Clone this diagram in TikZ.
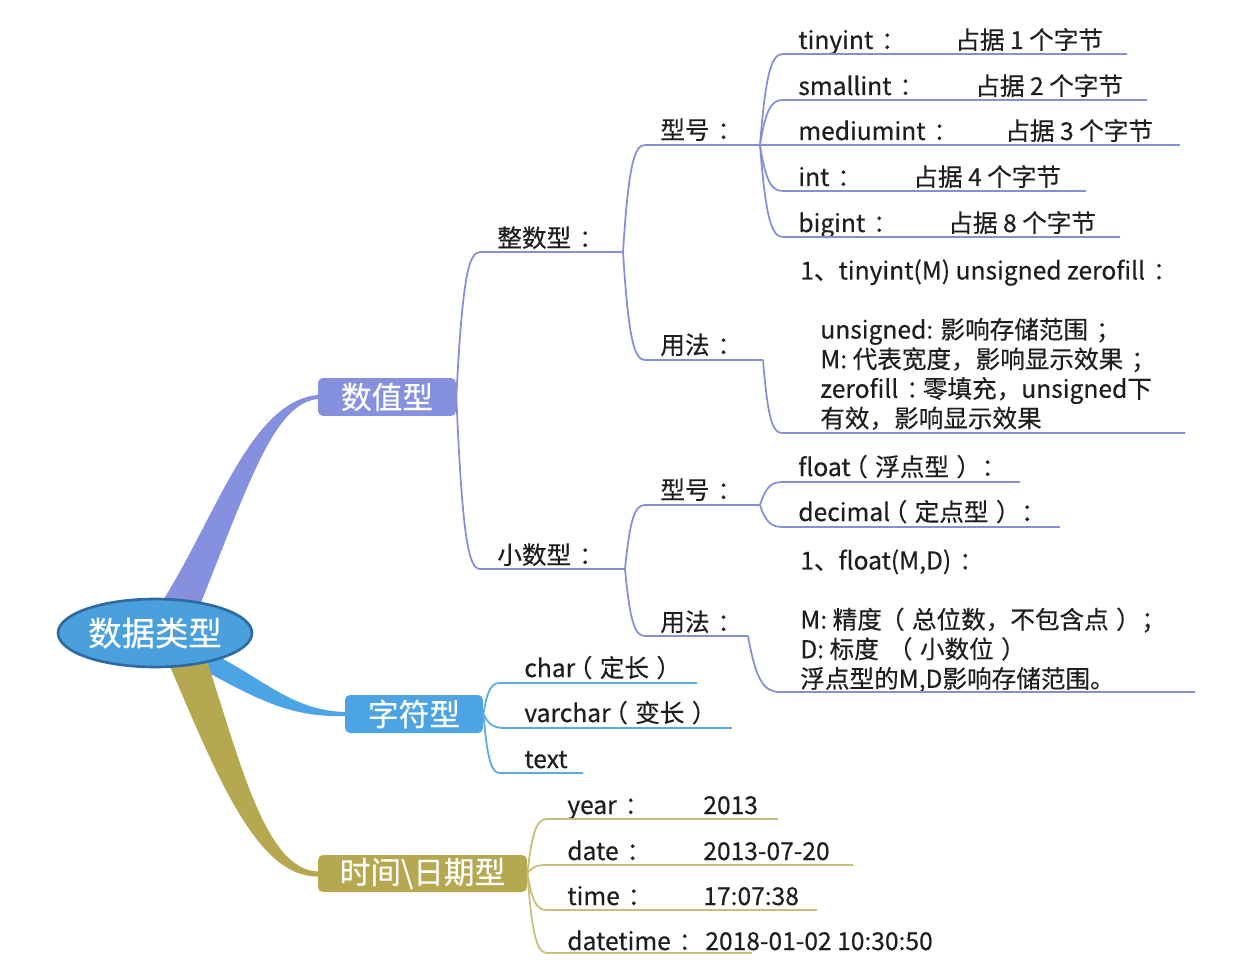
\documentclass[tikz,border=0pt]{standalone}
\usepackage{fontspec}
\setmainfont{Noto Sans CJK SC}[FakeBold=0.4]
\usetikzlibrary{calc,shapes.geometric,backgrounds}
\definecolor{purp}{HTML}{8591DE}
\definecolor{purpl}{HTML}{8590D3}
\definecolor{blu}{HTML}{4CA4E4}
\definecolor{blul}{HTML}{5BAAE2}
\definecolor{oli}{HTML}{B6A850}
\definecolor{olil}{HTML}{C8BE7A}
\definecolor{rootfill}{HTML}{4A9FDD}
\definecolor{rootdraw}{HTML}{2C6AA0}
\definecolor{txt}{HTML}{1E1E1E}
\newcommand\fc{\kern0.32em：\kern-0.32em}
\newcommand\fsc{\kern0.32em；\kern-0.32em}
\newcommand\flp{\kern-0.3em（\kern0.3em}
\newcommand\frp{\kern0.3em）\kern-0.3em}
\newcommand\conn[4]{\draw[#1] let \p1=(#2), \p2=(#3) in (#2) .. controls ({\x1+0.25*(\x2-\x1)},{\y1+0.8*(\y2-\y1)}) and ({\x2-0.5*(\x2-\x1)},\y2) .. (#3) -- (#4);}
\tikzset{
  lbl/.style={anchor=base west, inner sep=0pt, font=\fontsize{14}{17}\selectfont, text=txt},
  blk/.style={anchor=north west, inner sep=0pt, align=left, font=\fontsize{14}{16.84}\selectfont, text=txt},
  bignode/.style={rounded corners=0.1cm, text=white, inner sep=0pt, font=\fontsize{17.5}{20}\selectfont},
  pl/.style={purpl, line width=1pt},
  bl/.style={blul, line width=1pt},
  ol/.style={olil, line width=1pt}
}
\begin{document}
\begin{tikzpicture}[x=0.02cm,y=-0.02cm]
\useasboundingbox (0,0) rectangle (1233,976);
% root and main topics
\node[ellipse, fill=rootfill, draw=rootdraw, line width=1.5pt, minimum width=3.88cm, minimum height=1.36cm, inner sep=0pt, text=white, font=\fontsize{19}{22}\selectfont] (root) at (155,633) {数据类型};
\node[bignode, fill=purp, minimum width=2.76cm, minimum height=0.76cm] (num) at (387,397) {数值型};
\node[bignode, fill=blu, minimum width=2.76cm, minimum height=0.76cm] (chr) at (414,714) {字符型};
\node[bignode, fill=oli, minimum width=4.18cm, minimum height=0.74cm] (tm) at (422.5,873.5) {时间\textbackslash 日期型};
\begin{scope}[on background layer]
\fill[purp] ($(root.center)+(5,-28)$) .. controls (215,520) and (250,400) .. ($(num.west)+(1,-2)$) -- ($(num.west)+(1,2)$) .. controls (275,402) and (250,480) .. ($(root.center)+(45,-28)$) -- cycle;
\fill[blu] ($(root.center)+(50,17)$) .. controls (260,675) and (290,711) .. ($(chr.west)+(1,-2)$) -- ($(chr.west)+(1,2)$) .. controls (285,718) and (250,695) .. ($(root.center)+(30,27)$) -- cycle;
\fill[oli] ($(root.center)+(50,22)$) .. controls (240,760) and (265,871) .. ($(tm.west)+(1,-2)$) -- ($(tm.west)+(1,3)$) .. controls (255,878) and (215,770) .. ($(root.center)+(10,22)$) -- cycle;
\end{scope}
% ---- numeric branch
\node[lbl] (zs) at (497,247) {整数型\fc};
\coordinate (zs-s) at (480,252); \coordinate (zs-e) at (623,252);
\node[lbl] (xs) at (497,564) {小数型\fc};
\coordinate (xs-s) at (480,569); \coordinate (xs-e) at (625,569);
\conn{pl}{num.east}{zs-s}{zs-e}
\conn{pl}{num.east}{xs-s}{xs-e}
\node[lbl] (zxh) at (660,139) {型号\fc};
\coordinate (zxh-s) at (645,145); \coordinate (zxh-e) at (760,145);
\node[lbl] (zyf) at (660,354) {用法\fc};
\coordinate (zyf-s) at (645,360); \coordinate (zyf-e) at (763,360);
\conn{pl}{zs-e}{zxh-s}{zxh-e}
\conn{pl}{zs-e}{zyf-s}{zyf-e}
\node[lbl] (tiny) at (798,49) {tinyint\fc};
\node[lbl] (tinyv) at (955,49) {占据 1 个字节};
\coordinate (tiny-s) at (783,54); \coordinate (tiny-e) at (1127,54);
\node[lbl] (small) at (798,95) {smallint\fc};
\node[lbl] (smallv) at (975,95) {占据 2 个字节};
\coordinate (small-s) at (783,100); \coordinate (small-e) at (1147,100);
\node[lbl] (med) at (798,140) {mediumint\fc};
\node[lbl] (medv) at (1005,140) {占据 3 个字节};
\coordinate (med-s) at (783,145); \coordinate (med-e) at (1180,145);
\node[lbl] (int) at (798,186) {int\fc};
\node[lbl] (intv) at (913,186) {占据 4 个字节};
\coordinate (int-s) at (783,191); \coordinate (int-e) at (1086,191);
\node[lbl] (big) at (798,232) {bigint\fc};
\node[lbl] (bigv) at (948,232) {占据 8 个字节};
\coordinate (big-s) at (783,237); \coordinate (big-e) at (1120,237);
\conn{pl}{zxh-e}{tiny-s}{tiny-e}
\conn{pl}{zxh-e}{small-s}{small-e}
\conn{pl}{zxh-e}{med-s}{med-e}
\conn{pl}{zxh-e}{int-s}{int-e}
\conn{pl}{zxh-e}{big-s}{big-e}
\node[blk] (b1) at (800,259) {1、tinyint(M) unsigned zerofill\fc\\[16.84pt]
\hspace*{0.4cm}unsigned: 影响存储范围\fsc\\
\hspace*{0.4cm}M: 代表宽度，影响显示效果\fsc\\
\hspace*{0.4cm}zerofill\fc 零填充，unsigned下\\
\hspace*{0.4cm}有效，影响显示效果};
\coordinate (b1-s) at (782,433); \coordinate (b1-e) at (1185,433);
\conn{pl}{zyf-e}{b1-s}{b1-e}
\node[lbl] (xxh) at (660,499) {型号\fc};
\coordinate (xxh-s) at (645,505); \coordinate (xxh-e) at (760,505);
\node[lbl] (xyf) at (660,631) {用法\fc};
\coordinate (xyf-s) at (645,636); \coordinate (xyf-e) at (748,636);
\conn{pl}{xs-e}{xxh-s}{xxh-e}
\conn{pl}{xs-e}{xyf-s}{xyf-e}
\node[lbl] (flt) at (798,476) {float\flp 浮点型\frp\fc};
\coordinate (flt-s) at (783,482); \coordinate (flt-e) at (1020,482);
\node[lbl] (dec) at (798,521) {decimal\flp 定点型\frp\fc};
\coordinate (dec-s) at (783,527); \coordinate (dec-e) at (1060,527);
\conn{pl}{xxh-e}{flt-s}{flt-e}
\conn{pl}{xxh-e}{dec-s}{dec-e}
\node[blk] (b2) at (800,549) {1、float(M,D)\fc\\[16.84pt]
M: 精度 \flp 总位数，不包含点\frp\fsc\\
D: 标度\ \ \ \flp 小数位\frp\\
浮点型的M,D影响存储范围。};
\coordinate (b2-s) at (780,692); \coordinate (b2-e) at (1195,692);
\conn{pl}{xyf-e}{b2-s}{b2-e}
% ---- char branch
\node[lbl] (c1) at (524,677) {char\flp 定长\frp};
\coordinate (c1-s) at (500,683); \coordinate (c1-e) at (697,683);
\node[lbl] (c2) at (524,722) {varchar\flp 变长\frp};
\coordinate (c2-s) at (505,728); \coordinate (c2-e) at (732,728);
\node[lbl] (c3) at (524,768) {text};
\coordinate (c3-s) at (500,773); \coordinate (c3-e) at (583,773);
\conn{bl}{chr.east}{c1-s}{c1-e}
\conn{bl}{chr.east}{c2-s}{c2-e}
\conn{bl}{chr.east}{c3-s}{c3-e}
% ---- time branch
\node[lbl] (t1) at (567,814) {year\fc};
\node[lbl] (t1v) at (703,814) {2013};
\coordinate (t1-s) at (547,819); \coordinate (t1-e) at (778,819);
\node[lbl] (t2) at (567,860) {date\fc};
\node[lbl] (t2v) at (703,860) {2013-07-20};
\coordinate (t2-s) at (547,865); \coordinate (t2-e) at (853,865);
\node[lbl] (t3) at (567,905) {time\fc};
\node[lbl] (t3v) at (703,905) {17:07:38};
\coordinate (t3-s) at (547,910); \coordinate (t3-e) at (817,910);
\node[lbl] (t4) at (567,950) {datetime\fc};
\node[lbl] (t4v) at (705,950) {2018-01-02 10:30:50};
\coordinate (t4-s) at (547,953); \coordinate (t4-e) at (752,953);
\conn{ol}{tm.east}{t1-s}{t1-e}
\conn{ol}{tm.east}{t2-s}{t2-e}
\conn{ol}{tm.east}{t3-s}{t3-e}
\conn{ol}{tm.east}{t4-s}{t4-e}
\end{tikzpicture}
\end{document}
